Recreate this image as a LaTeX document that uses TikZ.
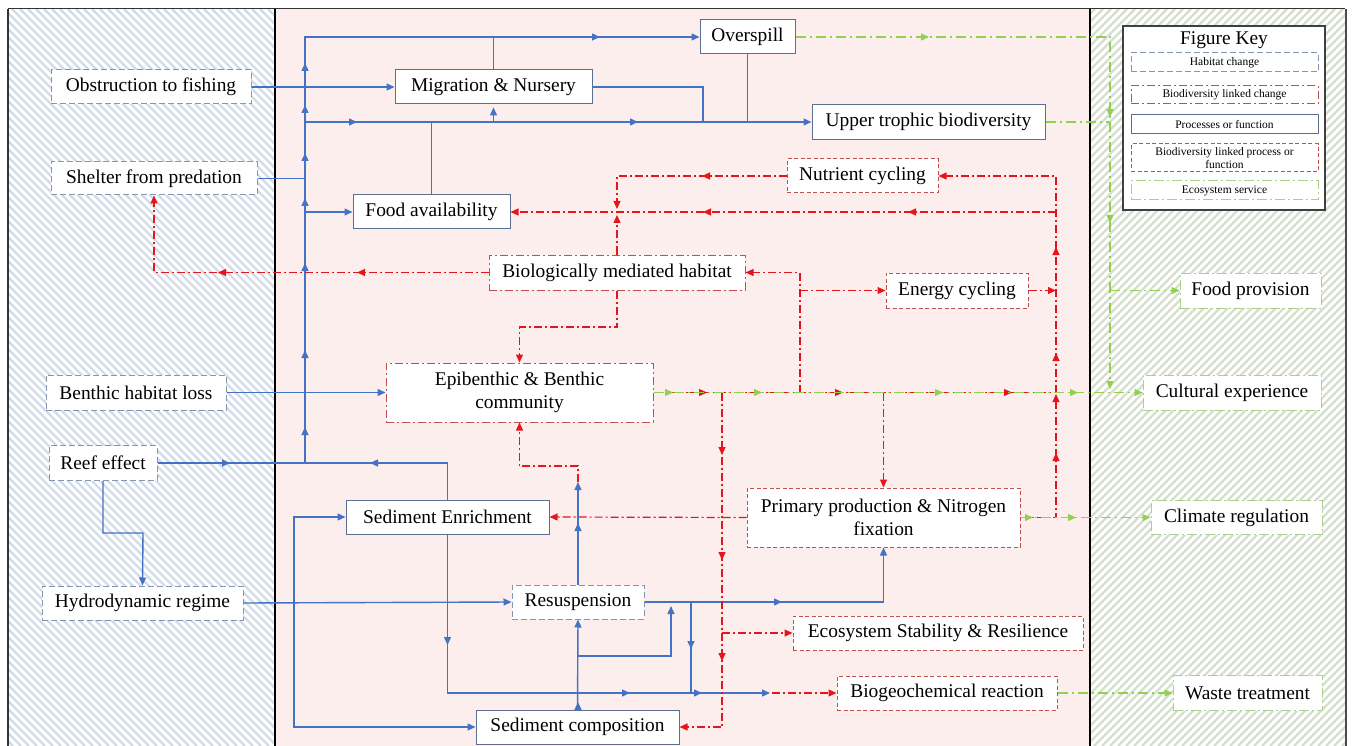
\documentclass[tikz,border=0pt]{standalone}
\usepackage{fontspec}
\setmainfont{Liberation Serif}
\usetikzlibrary{arrows.meta}
\definecolor{bl}{HTML}{4472C4}
\definecolor{rd}{HTML}{E8141C}
\definecolor{gr}{HTML}{92D050}
\definecolor{grb}{HTML}{A9D18E}
\definecolor{hab}{HTML}{8497B0}
\definecolor{proc}{HTML}{5B6F91}
\definecolor{rb}{HTML}{C0504D}
\definecolor{pinkbg}{HTML}{FDEEEE}
\definecolor{hatchL}{HTML}{D3DBE6}
\definecolor{hatchR}{HTML}{D6DFCF}
\tikzset{
 box/.style={fill=white, inner sep=0pt, align=center, font=\fontsize{19.4}{23}\selectfont, line width=1pt},
 habbox/.style={box, draw=hab, dash pattern=on 6pt off 3pt},
 procbox/.style={box, draw=proc},
 chbox/.style={box, draw=rb, dash pattern=on 8pt off 3pt on 2pt off 3pt},
 pfbox/.style={box, draw=rb, dash pattern=on 4pt off 2.5pt},
 esbox/.style={box, draw=grb, dash pattern=on 10pt off 3pt on 2pt off 3pt},
 keyfont/.style={font=\fontsize{11.5}{13}\selectfont},
 bln/.style={draw=bl, line width=1.4pt},
 rln/.style={draw=rd, line width=1.2pt, dash pattern=on 8pt off 3pt on 2pt off 3pt},
 gln/.style={draw=gr, line width=1.1pt, dash pattern=on 10pt off 4pt on 2pt off 4pt},
 tipb/.style={-{Triangle[length=8pt,width=7pt]}},
}
\newcommand\tipR[2]{\draw[#1,solid,tipb] ([xshift=-3pt]#2) -- (#2);}
\newcommand\tipL[2]{\draw[#1,solid,tipb] ([xshift=3pt]#2) -- (#2);}
\newcommand\tipU[2]{\draw[#1,solid,tipb] ([yshift=-3pt]#2) -- (#2);}
\newcommand\tipD[2]{\draw[#1,solid,tipb] ([yshift=3pt]#2) -- (#2);}
\begin{document}
\begin{tikzpicture}[x=1pt,y=-1pt]
\useasboundingbox (0,0) rectangle (1352,746);
\fill[white] (0,0) rectangle (1352,746);
% panels
\begin{scope}
\clip (8,9) rectangle (275,746);
\foreach \a in {-740,-732,...,280} \draw[hatchL, line width=2.4pt] (\a,9) -- ++(737,737);
\end{scope}
\begin{scope}
\clip (1090,9) rectangle (1345,746);
\foreach \a in {350,358,...,1350} \draw[hatchR, line width=2.4pt] (\a,746) -- ++(737,-737);
\end{scope}
\fill[pinkbg] (275,9) rectangle (1090,746);
\draw[black!80, line width=1pt] (8,9) -- (1345,9);
\draw[black!80, line width=1.5pt] (8,9) -- (8,746);
\draw[black!70, line width=2pt] (1346,9) -- (1346,746);
\draw[black, line width=2pt] (275,9) -- (275,746);
\draw[black, line width=2pt] (1090,9) -- (1090,746);

% nodes left
\node[habbox, minimum width=200pt, minimum height=34pt] (obst) at (151,87) {Obstruction to fishing};
\node[habbox, minimum width=206pt, minimum height=33pt] (shel) at (154,178.5) {Shelter from predation};
\node[habbox, minimum width=180pt, minimum height=35pt] (bhl) at (136,392.5) {Benthic habitat loss};
\node[habbox, minimum width=108pt, minimum height=35pt] (reef) at (103,463) {Reef effect};
\node[habbox, minimum width=201pt, minimum height=34pt] (hydro) at (142.5,603) {Hydrodynamic regime};
% nodes middle
\node[procbox, minimum width=95pt, minimum height=34pt] (over) at (747.5,37) {Overspill};
\node[procbox, minimum width=197pt, minimum height=34pt] (migr) at (493.5,87) {Migration \& Nursery};
\node[procbox, minimum width=233pt, minimum height=35pt] (upper) at (928.5,122) {Upper trophic biodiversity};
\node[pfbox, minimum width=151pt, minimum height=34pt] (nutr) at (862.5,176) {Nutrient cycling};
\node[procbox, minimum width=157pt, minimum height=34pt] (food) at (431.5,212) {Food availability};
\node[chbox, minimum width=256pt, minimum height=35pt] (bmh) at (617,272.5) {Biologically mediated habitat};
\node[pfbox, minimum width=142pt, minimum height=35pt] (energy) at (957,290.5) {Energy cycling};
\node[chbox, minimum width=267pt, minimum height=59pt] (epi) at (519.5,392.5) {Epibenthic \& Benthic\\community};
\node[procbox, minimum width=203pt, minimum height=34pt] (senr) at (447.5,517) {Sediment Enrichment};
\node[pfbox, minimum width=273pt, minimum height=59pt] (prim) at (883.5,517.5) {Primary production \& Nitrogen\\fixation};
\node[habbox, minimum width=132pt, minimum height=34pt] (resus) at (578,602) {Resuspension};
\node[pfbox, minimum width=290pt, minimum height=34pt] (stab) at (938,633) {Ecosystem Stability \& Resilience};
\node[pfbox, minimum width=220pt, minimum height=34pt] (biogeo) at (947,693) {Biogeochemical reaction};
\node[procbox, minimum width=203pt, minimum height=34pt] (scomp) at (577.5,727) {Sediment composition};
% nodes right
\node[esbox, minimum width=141pt, minimum height=35pt] (fprov) at (1250.5,290.5) {Food provision};
\node[esbox, minimum width=178pt, minimum height=35pt] (cult) at (1232,392.5) {Cultural experience};
\node[esbox, minimum width=171pt, minimum height=34pt] (clim) at (1236.5,517.5) {Climate regulation};
\node[esbox, minimum width=149pt, minimum height=35pt] (waste) at (1247.5,693) {Waste treatment};
% key
\node[draw=black!75, line width=1.2pt, fill=white, minimum width=202pt, minimum height=184pt] (key) at (1224,118) {};
\node[font=\fontsize{19.4}{22}\selectfont, inner sep=0pt] (keyt) at (1224,40) {Figure Key};
\node[habbox, keyfont, minimum width=187pt, minimum height=19pt] (k1) at (1224.5,62.5) {Habitat change};
\node[chbox, keyfont, minimum width=187pt, minimum height=18pt] (k2) at (1224.5,95) {Biodiversity linked change};
\node[procbox, keyfont, minimum width=187pt, minimum height=19pt] (k3) at (1224.5,124.5) {Processes or function};
\node[pfbox, keyfont, minimum width=187pt, minimum height=28pt] (k4) at (1224.5,158) {Biodiversity linked process or\\function};
\node[esbox, keyfont, minimum width=187pt, minimum height=19pt] (k5) at (1224.5,190.5) {Ecosystem service};

% ---------- blue connectors
\coordinate (tr0) at (305,463);
\coordinate (trtop) at (305,37);
\coordinate (L122) at (305,122);
\draw[bln] (reef.east) -- (tr0);
\draw[bln] (senr.north) |- (tr0);
\draw[bln,tipb] (tr0) -- (trtop) -- (over.west);
\foreach \y in {427,350,263,198,153,105,63} {\tipU{bln}{305,\y}}
\tipR{bln}{230,463}
\tipL{bln}{370,463}
\tipR{bln}{600,37}
\draw[bln] (migr.north) -- (migr.north |- trtop);
\draw[bln,tipb] (obst.east) -- (migr.west);
\draw[bln,tipb] (L122) -- (upper.west);
\tipR{bln}{357,122}
\tipR{bln}{638,122}
\draw[bln,tipb] (migr.south |- L122) -- ([yshift=-3pt]migr.south);
\draw[bln] (food.north) -- (food.north |- L122);
\draw[bln] (migr.east) -| (703,122);
\draw[bln] (over.south) -- (over.south |- L122);
\draw[bln] (shel.east) -- (305,178.5);
\draw[bln,tipb] (305,212) -- (food.west);
\draw[bln,tipb] (bhl.east) -- (epi.west);
\draw[bln,tipb] (reef.south) |- (143,533) -- (hydro.north);
\draw[bln,tipb] (hydro.east) -- (resus.west);
\draw[bln,tipb] (294,603) |- (senr.west);
\draw[bln,tipb] (294,603) |- (scomp.west);
\draw[bln,tipb] (senr.south) |- (770,693);
\tipD{bln}{447.5,645}
\tipR{bln}{630,693}
\tipR{bln}{702,693}
\draw[bln,tipb] (resus.north) -- (578,482);
\tipU{bln}{578,523}
\draw[bln,tipb] (scomp.north) -- (resus.south);
\tipU{bln}{578,702}
\draw[bln,tipb] (578,656) -| (671,606);
\draw[bln,tipb] (resus.east) -| (prim.south);
\tipR{bln}{782,602}
\draw[bln] (691,602) -- (691,693);
\tipD{bln}{691,649}

% ---------- red connectors
\draw[rln,tipb] (772,693) -- (biogeo.west);
\draw[rln,tipb] (578,482) |- (519.5,466) -- (epi.south);
\draw[rln] (epi.east) -- (1056,392.5);
\foreach \x in {707,843,1012} {\tipR{rln}{\x,392.5}}
\draw[rln,tipb] (722,392.5) |- (scomp.east);
\foreach \y in {455,560,661} {\tipD{rln}{722,\y}}
\draw[rln,tipb] (722,633) -- (stab.west);
\draw[rln,tipb] (800,392.5) |- (bmh.east);
\draw[rln,tipb] (800,290.5) -- (energy.west);
\draw[rln,tipb] (883.5,392.5) -- (prim.north);
\draw[rln,tipb] (prim.east) -| (1056,176) -- (nutr.east);
\foreach \y in {453,394,353,247} {\tipU{rln}{1056,\y}}
\draw[rln,tipb] (1056,212) -- (food.east);
\tipL{rln}{908,212}
\tipL{rln}{703,212}
\draw[rln,tipb] (energy.east) -- (1056,290.5);
\draw[rln,tipb] (nutr.west) -| (617,209);
\tipL{rln}{702,176}
\draw[rln,tipb] (bmh.north) -- (617,215);
\draw[rln,tipb] (bmh.west) -| (shel.south);
\tipL{rln}{357,272.5}
\tipL{rln}{218,272.5}
\draw[rln,tipb] (bmh.south) |- (519.5,327) -- (epi.north);
\draw[rln,tipb] (prim.west) -- (senr.east);

% ---------- green connectors
\draw[gln,tipb] (epi.east) -- (cult.west);
\foreach \x in {673,762,943,1078} {\tipR{gln}{\x,392.5}}
\draw[gln,tipb] (over.east) -| (1110,389);
\tipR{gln}{929,37}
\tipD{gln}{1110,117}
\tipD{gln}{1110,223}
\draw[gln] (upper.east) -- (1110,122);
\draw[gln,tipb] (1110,290.5) -- (fprov.west);
\draw[gln,tipb] (prim.east) -- (clim.west);
\tipR{gln}{1033,517.5}
\tipR{gln}{1076,517.5}
\draw[gln,tipb] (biogeo.east) -- (waste.west);
\end{tikzpicture}
\end{document}
